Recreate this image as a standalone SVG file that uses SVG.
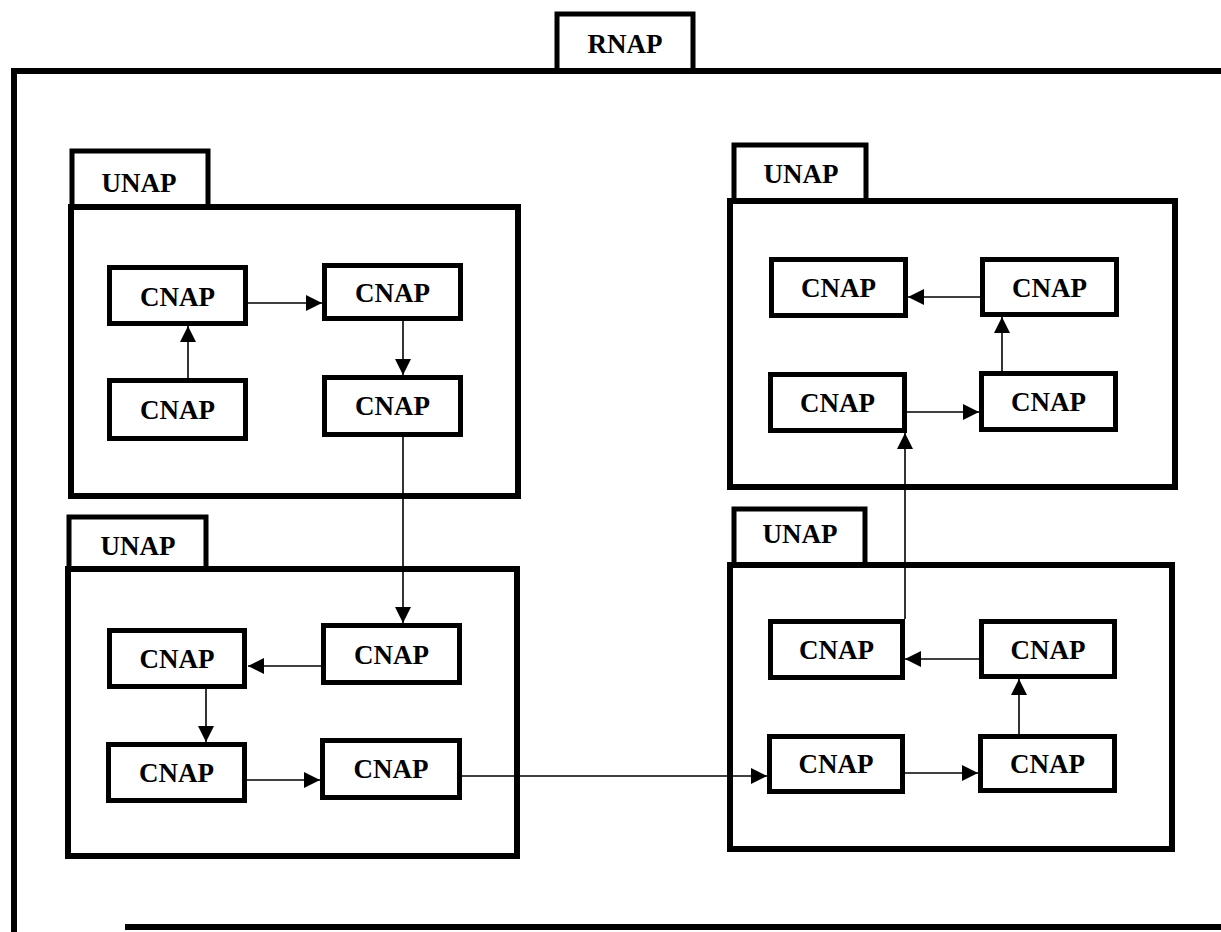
<svg xmlns="http://www.w3.org/2000/svg" width="1221" height="932" viewBox="0 0 1221 932">
  <style>
    .frame { fill: none; stroke: #000; stroke-width: 6; }
    .tab { fill: none; stroke: #000; stroke-width: 5; }
    .unap { fill: none; stroke: #000; stroke-width: 6; }
    .cnap { fill: #fff; stroke: #000; stroke-width: 5; }
    .lbl { font-family: "Liberation Serif", "Times New Roman", serif; font-weight: bold; font-size: 27px; text-anchor: middle; fill: #000; }
    .link { fill: none; stroke: #000; stroke-width: 1.6; marker-end: url(#tri); }
  </style>
  <defs>
    <marker id="tri" markerUnits="userSpaceOnUse" viewBox="0 0 16 16" refX="16" refY="8" markerWidth="16" markerHeight="16" orient="auto">
      <path d="M0,0 L16,8 L0,16 Z" fill="#000"/>
    </marker>
  </defs>
  <rect width="1221" height="932" fill="#fff"/>

  <!-- RNAP outer frame -->
  <g id="rnap">
    <path class="tab" d="M557,71 V14 H693 V71"/>
    <text class="lbl" x="625" y="53">RNAP</text>
    <path class="frame" d="M14,932 V71 H1221"/>
    <path class="frame" d="M125,927 H1221"/>
  </g>

  <!-- UNAP containers -->
  <g id="unap-1">
    <path class="tab" d="M72,207 V151 H208 V207"/>
    <text class="lbl" x="139" y="192">UNAP</text>
    <rect class="unap" x="71" y="207" width="447" height="289"/>
  </g>
  <g id="unap-2">
    <path class="tab" d="M69,569 V517 H206 V569"/>
    <text class="lbl" x="138" y="555">UNAP</text>
    <rect class="unap" x="68" y="569" width="449" height="287"/>
  </g>
  <g id="unap-3">
    <path class="tab" d="M734,201 V145 H866 V201"/>
    <text class="lbl" x="801" y="183">UNAP</text>
    <rect class="unap" x="730" y="201" width="445" height="286"/>
  </g>
  <g id="unap-4">
    <path class="tab" d="M734,565 V509 H865 V565"/>
    <text class="lbl" x="800" y="543">UNAP</text>
    <rect class="unap" x="730" y="565" width="442" height="284"/>
  </g>

  <!-- CNAP nodes, UNAP 1 -->
  <g id="a1"><rect class="cnap" x="109.5" y="267.5" width="136" height="56"/><text class="lbl" x="177.5" y="306">CNAP</text></g>
  <g id="a2"><rect class="cnap" x="324.5" y="265.5" width="136" height="53"/><text class="lbl" x="392.5" y="302">CNAP</text></g>
  <g id="a3"><rect class="cnap" x="109.5" y="380.5" width="136" height="58"/><text class="lbl" x="177.5" y="419">CNAP</text></g>
  <g id="a4"><rect class="cnap" x="324.5" y="377.5" width="136" height="57"/><text class="lbl" x="392.5" y="415">CNAP</text></g>

  <!-- CNAP nodes, UNAP 2 -->
  <g id="b1"><rect class="cnap" x="109.5" y="630.5" width="135" height="56"/><text class="lbl" x="177" y="668">CNAP</text></g>
  <g id="b2"><rect class="cnap" x="323.5" y="625.5" width="136" height="57"/><text class="lbl" x="391.5" y="664">CNAP</text></g>
  <g id="b3"><rect class="cnap" x="108.5" y="744.5" width="136" height="56"/><text class="lbl" x="176.5" y="782">CNAP</text></g>
  <g id="b4"><rect class="cnap" x="322.5" y="740.5" width="137" height="57"/><text class="lbl" x="391" y="778">CNAP</text></g>

  <!-- CNAP nodes, UNAP 3 -->
  <g id="c1"><rect class="cnap" x="771.5" y="259.5" width="134" height="56"/><text class="lbl" x="838.5" y="297">CNAP</text></g>
  <g id="c2"><rect class="cnap" x="982.5" y="259.5" width="134" height="55"/><text class="lbl" x="1049.5" y="297">CNAP</text></g>
  <g id="c3"><rect class="cnap" x="770.5" y="374.5" width="134" height="56"/><text class="lbl" x="837.5" y="412">CNAP</text></g>
  <g id="c4"><rect class="cnap" x="981.5" y="373.5" width="134" height="56"/><text class="lbl" x="1048.5" y="411">CNAP</text></g>

  <!-- CNAP nodes, UNAP 4 -->
  <g id="d1"><rect class="cnap" x="770.5" y="621.5" width="132" height="56"/><text class="lbl" x="836.5" y="659">CNAP</text></g>
  <g id="d2"><rect class="cnap" x="981.5" y="621.5" width="133" height="55"/><text class="lbl" x="1048" y="659">CNAP</text></g>
  <g id="d3"><rect class="cnap" x="769.5" y="736.5" width="133" height="55"/><text class="lbl" x="836" y="773">CNAP</text></g>
  <g id="d4"><rect class="cnap" x="980.5" y="736.5" width="134" height="54"/><text class="lbl" x="1047.5" y="773">CNAP</text></g>

  <!-- connectors -->
  <g id="connectors">
    <path class="link" d="M248,303 H322"/>
    <path class="link" d="M188,378 V326"/>
    <path class="link" d="M403,321 V375"/>
    <path class="link" d="M403,437 V623"/>

    <path class="link" d="M321,666 H248"/>
    <path class="link" d="M206,689 V742"/>
    <path class="link" d="M247,780 H320"/>
    <path class="link" d="M462,776 H767"/>

    <path class="link" d="M980,297 H908"/>
    <path class="link" d="M1002,371 V317"/>
    <path class="link" d="M907,412 H979"/>
    <path class="link" d="M905,619 V433"/>

    <path class="link" d="M979,659 H905"/>
    <path class="link" d="M1019,734 V679"/>
    <path class="link" d="M905,773 H978"/>
  </g>
</svg>
